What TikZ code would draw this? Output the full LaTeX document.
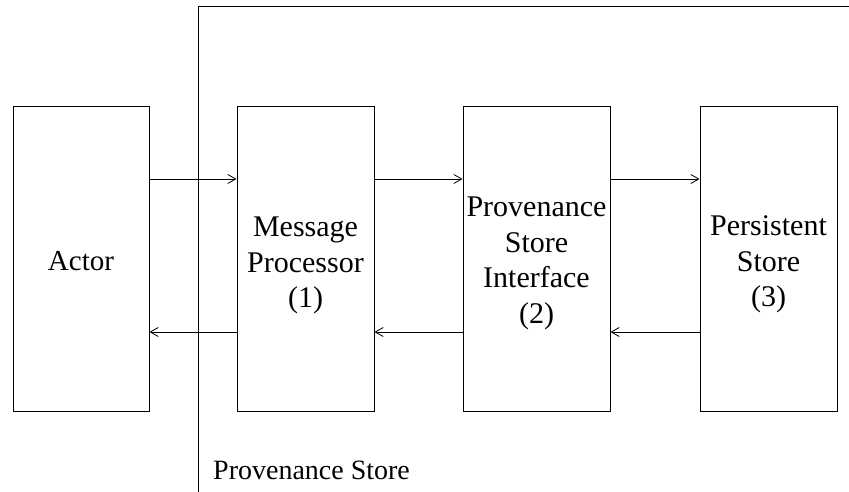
\documentclass[tikz,border=0pt]{standalone}
\usepackage{fontspec}
\setmainfont{Liberation Serif}
\usetikzlibrary{arrows.meta}
\begin{document}
\begin{tikzpicture}[x=1pt,y=-1pt,
  blk/.style={draw, line width=0.9pt, minimum height=305pt, inner sep=0pt},
  txt/.style={inner sep=0pt, align=center, font=\fontsize{30}{35.5}\selectfont},
  arr/.style={-{Straight Barb[length=8pt,width=9pt]}, line width=0.8pt},
  sep/.style={line width=0.9pt}]
\useasboundingbox (0,0) rectangle (849,492);
\node[blk, minimum width=136pt] (actor) at (81,258.5) {};
\node[blk, minimum width=137pt] (mp) at (305.5,258.5) {};
\node[blk, minimum width=147pt] (psi) at (536.5,258.5) {};
\node[blk, minimum width=137pt] (ps) at (768.5,258.5) {};
\node[txt, font=\fontsize{29}{35.5}\selectfont] (actort) at ([yshift=-3pt]actor.center) {Actor};
\node[txt] (mpt) at ([yshift=-7pt]mp.center) {Message\\Processor\\(1)};
\node[txt] (psit) at ([yshift=-5pt]psi.center) {Provenance\\Store\\Interface\\(2)};
\node[txt] (pst) at ([yshift=-6pt]ps.center) {Persistent\\Store\\(3)};
% separator
\coordinate (st) at (198,492);
\coordinate (sc) at (198,6);
\coordinate (se) at (849,6);
\draw[sep] (st) -- (sc) -- (se);
\node[anchor=base west, inner sep=0pt, font=\fontsize{28}{34}\selectfont] (lbl) at (213,479) {Provenance Store};
% arrows
\draw[arr] ([yshift=79.5pt]actor.east) -- ([yshift=79.5pt]mp.west);
\draw[arr] ([yshift=79.5pt]mp.east) -- ([yshift=79.5pt]psi.west);
\draw[arr] ([yshift=79.5pt]psi.east) -- ([yshift=79.5pt]ps.west);
\draw[arr] ([yshift=-73.5pt]mp.west) -- ([yshift=-73.5pt]actor.east);
\draw[arr] ([yshift=-73.5pt]psi.west) -- ([yshift=-73.5pt]mp.east);
\draw[arr] ([yshift=-73.5pt]ps.west) -- ([yshift=-73.5pt]psi.east);
\end{tikzpicture}
\end{document}
